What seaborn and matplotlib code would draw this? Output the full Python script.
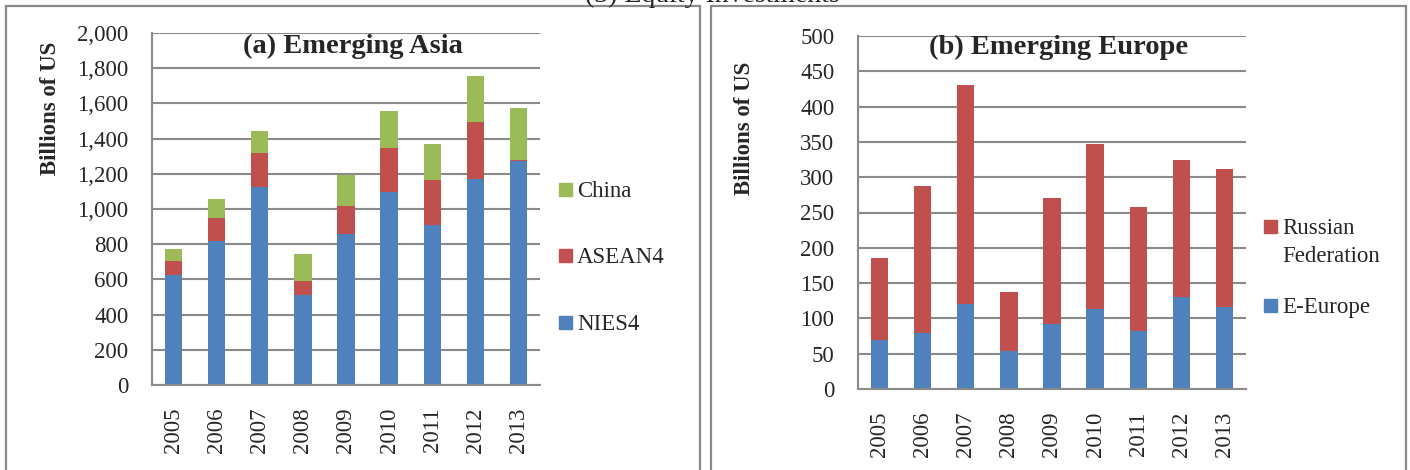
import numpy as np
import seaborn as sns
import matplotlib
matplotlib.use('Agg')
import matplotlib.pyplot as plt
from matplotlib.patches import Rectangle
from matplotlib.ticker import FuncFormatter, MultipleLocator

# Data (billions of US$)
years = ['2005', '2006', '2007', '2008', '2009', '2010', '2011', '2012', '2013']

nies4 = [624, 818, 1127, 510, 860, 1096, 909, 1172, 1274]
asean4 = [83, 131, 191, 82, 157, 252, 254, 325, 2]
china = [64, 106, 128, 151, 174, 206, 209, 261, 297]

e_europe = [69, 80, 121, 54, 92, 114, 82, 130, 116]
russia = [117, 208, 309, 84, 178, 233, 176, 194, 195]

BLUE = '#4F81BD'
RED = '#C0504D'
GREEN = '#9BBB59'
GREY = '#8A8A8A'

W, H = 1410, 470

sns.set_style('white')
plt.rcParams['font.family'] = ['Liberation Serif', 'DejaVu Serif']
plt.rcParams['font.size'] = 16.5

fig = plt.figure(figsize=(W / 100, H / 100), dpi=100)


def stacked(ax, layers, colors):
    # draw running totals from the top layer down, so lower layers sit on top
    cum = np.cumsum(np.array(layers), axis=0)
    for tot, col in reversed(list(zip(cum, colors))):
        sns.barplot(x=years, y=tot, color=col, saturation=1, width=0.4,
                    errorbar=None, linewidth=0, ax=ax)


def style(ax, top, step, fmt):
    ax.set_xlim(-0.5, 8.5)
    ax.set_ylim(0, top)
    ax.yaxis.set_major_locator(MultipleLocator(step))
    ax.yaxis.set_major_formatter(FuncFormatter(fmt))
    ax.grid(axis='y', color=GREY, lw=1.5)
    ax.grid(axis='x', visible=False)
    ax.set_axisbelow(True)
    for s in ('top', 'right'):
        ax.spines[s].set_visible(False)
    for s in ('left', 'bottom'):
        ax.spines[s].set_color(GREY)
        ax.spines[s].set_linewidth(1.5)
    ax.set_xticks(range(len(years)))
    ax.set_xticklabels(years, rotation=90)
    ax.set_xticks(np.arange(-0.5, len(years), 1), minor=True)
    ax.tick_params(axis='x', which='major', length=0, pad=16)
    ax.tick_params(axis='x', which='minor', length=5, color=GREY, width=1.5)
    ax.tick_params(axis='y', length=5, color=GREY, width=1.5, pad=12)
    ax.set_xlabel('')
    ax.set_ylabel('')


def legend(entries, x, ys):
    for (label, col), y in zip(entries, ys):
        fig.patches.append(Rectangle((x / W, 1 - (y + 6.5) / H), 13 / W, 13 / H,
                                     transform=fig.transFigure, color=col))
        fig.text((x + 18) / W, 1 - (y - 8) / H, label, ha='left', va='top',
                 linespacing=1.45)


# panel frames
for x0, x1 in ((6, 700), (711, 1406)):
    fig.patches.append(Rectangle((x0 / W, -0.05), (x1 - x0) / W, 1.05 - 6 / H,
                                 transform=fig.transFigure, fill=False,
                                 edgecolor=GREY, lw=1.6))

# overall heading, cut off by the top edge as in the source
fig.text(712 / W, 1 - 1.5 / H, '(3) Equity Investments', ha='center',
         va='baseline', fontsize=20)

# (a) Emerging Asia
ax1 = fig.add_axes([152 / W, 1 - 385 / H, 388 / W, 352 / H])
stacked(ax1, [nies4, asean4, china], [BLUE, RED, GREEN])
style(ax1, 2000, 200, lambda v, p: f'{v:,.0f}')
ax1.text(0.518, 0.963, '(a) Emerging Asia', transform=ax1.transAxes,
         ha='center', va='center', fontweight='bold', fontsize=20.5)
fig.text(51 / W, 1 - 108 / H, 'Billions of US', rotation=90, ha='center',
         va='center', fontweight='bold')
legend([('China', GREEN), ('ASEAN4', RED), ('NIES4', BLUE)], 559, [189, 255, 322])

# (b) Emerging Europe
ax2 = fig.add_axes([858 / W, 1 - 389 / H, 388 / W, 353 / H])
stacked(ax2, [e_europe, russia], [BLUE, RED])
style(ax2, 500, 50, lambda v, p: f'{v:.0f}')
ax2.text(0.518, 0.969, '(b) Emerging Europe', transform=ax2.transAxes,
         ha='center', va='center', fontweight='bold', fontsize=20.5)
fig.text(744 / W, 1 - 128 / H, 'Billions of US', rotation=90, ha='center',
         va='center', fontweight='bold')
legend([('Russian\nFederation', RED), ('E-Europe', BLUE)], 1264, [226, 305])

fig.savefig('out.png', dpi=100)
